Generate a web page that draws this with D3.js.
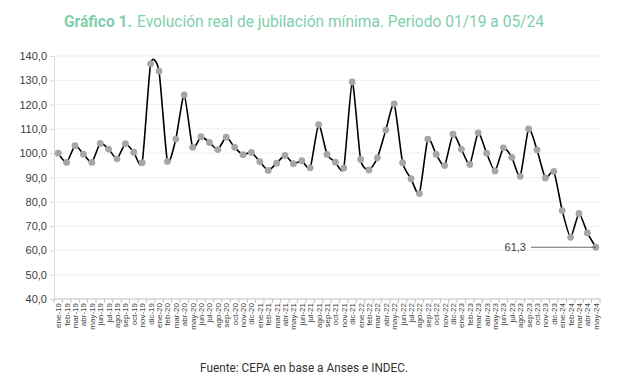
<!DOCTYPE html>
<html>
<head>
<meta charset="utf-8">
<script src="https://cdn.jsdelivr.net/npm/d3@7"></script>
<style>
  body { margin: 0; background: #fff; }
  svg { display: block; }
</style>
</head>
<body>
<div id="chart"></div>
<script>
// Data
const categories = [
  'ene-19','feb-19','mar-19','abr-19','may-19','jun-19','jul-19','ago-19','sep-19','oct-19','nov-19','dic-19',
  'ene-20','feb-20','mar-20','abr-20','may-20','jun-20','jul-20','ago-20','sep-20','oct-20','nov-20','dic-20',
  'ene-21','feb-21','mar-21','abr-21','may-21','jun-21','jul-21','ago-21','sep-21','oct-21','nov-21','dic-21',
  'ene-22','feb-22','mar-22','abr-22','may-22','jun-22','jul-22','ago-22','sep-22','oct-22','nov-22','dic-22',
  'ene-23','feb-23','mar-23','abr-23','may-23','jun-23','jul-23','ago-23','sep-23','oct-23','nov-23','dic-23',
  'ene-24','feb-24','mar-24','abr-24','may-24'
];
const values = [
  100.0, 96.2, 103.1, 99.6, 96.2, 104.0, 101.7, 97.7, 103.9, 100.4, 96.1, 136.8,
  133.8, 96.6, 105.8, 124.0, 102.4, 106.8, 104.4, 101.5, 106.6, 102.4, 99.4, 100.3,
  96.5, 92.9, 95.9, 99.1, 95.7, 96.9, 94.0, 111.8, 99.5, 96.3, 93.9, 129.3,
  97.4, 93.1, 98.1, 109.5, 120.3, 96.1, 89.5, 83.4, 105.8, 99.5, 94.9, 107.8,
  101.6, 95.4, 108.4, 100.0, 92.7, 102.2, 98.3, 90.5, 110.0, 101.4, 89.8, 92.5,
  76.4, 65.4, 75.2, 67.2, 61.3
];
const yTicks = [40, 50, 60, 70, 80, 90, 100, 110, 120, 130, 140];

const W = 625, H = 384;
const margin = { top: 56, right: 25, bottom: 85, left: 54 };

const svg = d3.select('#chart').append('svg')
  .attr('width', W)
  .attr('height', H);

const x = d3.scaleBand()
  .domain(categories)
  .range([margin.left, W - margin.right])
  .padding(0);

const y = d3.scaleLinear()
  .domain([40, 140])
  .range([H - margin.bottom, margin.top]);

const fmt = v => d3.format('.1f')(v).replace('.', ',');

// Gridlines
svg.append('g')
  .selectAll('line')
  .data(yTicks.slice(1))
  .enter().append('line')
  .attr('x1', margin.left)
  .attr('x2', W - margin.right)
  .attr('y1', d => y(d))
  .attr('y2', d => y(d))
  .attr('stroke', '#efefef')
  .attr('stroke-width', 1);

// Y axis
const yAxis = svg.append('g')
  .attr('transform', `translate(${margin.left},0)`)
  .call(d3.axisLeft(y).tickValues(yTicks).tickFormat(fmt).tickSize(4).tickPadding(3));
yAxis.select('.domain').attr('stroke', '#d9d9d9');
yAxis.selectAll('.tick line').attr('stroke', '#d9d9d9');
yAxis.selectAll('text')
  .attr('fill', '#404040')
  .style('font-family', '"Liberation Sans", Arial, sans-serif')
  .style('font-size', '11px');

// X axis line + ticks between categories
const xAxisY = y(40);
svg.append('line')
  .attr('x1', margin.left).attr('x2', W - margin.right)
  .attr('y1', xAxisY).attr('y2', xAxisY)
  .attr('stroke', '#bfbfbf');
svg.append('g')
  .selectAll('line')
  .data(categories.concat(['__end']))
  .enter().append('line')
  .attr('x1', d => d === '__end' ? x.range()[1] : x(d))
  .attr('x2', d => d === '__end' ? x.range()[1] : x(d))
  .attr('y1', xAxisY)
  .attr('y2', xAxisY + 4)
  .attr('stroke', '#bfbfbf');

// X labels (rotated)
svg.append('g')
  .selectAll('text')
  .data(categories)
  .enter().append('text')
  .attr('transform', d => `translate(${x(d) + x.bandwidth() / 2 + 3},${xAxisY + 4}) rotate(-90)`)
  .attr('text-anchor', 'end')
  .attr('fill', '#404040')
  .style('font-family', '"Liberation Sans", Arial, sans-serif')
  .style('font-size', '8px')
  .text(d => d);

// Line
const cx = (d, i) => x(categories[i]) + x.bandwidth() / 2;
const line = d3.line()
  .x(cx)
  .y(d => y(d))
  .curve(d3.curveCardinal.tension(0.4));

svg.append('path')
  .datum(values)
  .attr('d', line)
  .attr('fill', 'none')
  .attr('stroke', '#000')
  .attr('stroke-width', 1.6);

// Markers
svg.append('g')
  .selectAll('circle')
  .data(values)
  .enter().append('circle')
  .attr('cx', cx)
  .attr('cy', d => y(d))
  .attr('r', 3.4)
  .attr('fill', '#a6a6a6');

// Annotation for last value
const lastI = values.length - 1;
const lastV = values[lastI];
svg.append('line')
  .attr('x1', 531)
  .attr('x2', cx(lastV, lastI))
  .attr('y1', y(lastV))
  .attr('y2', y(lastV))
  .attr('stroke', '#404040')
  .attr('stroke-width', 0.8);
svg.append('text')
  .attr('x', 526)
  .attr('y', y(lastV) + 4)
  .attr('text-anchor', 'end')
  .attr('fill', '#404040')
  .style('font-family', '"Liberation Sans", Arial, sans-serif')
  .style('font-size', '11px')
  .text(fmt(lastV));

// Title
const titleStyle = sel => sel
  .attr('y', 27)
  .attr('lengthAdjust', 'spacingAndGlyphs')
  .attr('fill', '#7fcfac')
  .style('font-family', 'Roboto, sans-serif')
  .style('font-size', '17px');
svg.append('text')
  .call(titleStyle)
  .attr('x', 64)
  .attr('textLength', 68)
  .style('font-weight', 'bold')
  .text('Gráfico 1.');
svg.append('text')
  .call(titleStyle)
  .attr('x', 137)
  .attr('textLength', 407)
  .text('Evolución real de jubilación mínima. Periodo 01/19 a 05/24');

// Source
svg.append('text')
  .attr('x', 200)
  .attr('y', 372)
  .attr('textLength', 208)
  .attr('lengthAdjust', 'spacingAndGlyphs')
  .attr('fill', '#333')
  .style('font-family', 'Roboto, sans-serif')
  .style('font-size', '12px')
  .text('Fuente: CEPA en base a Anses e INDEC.');
</script>
</body>
</html>
